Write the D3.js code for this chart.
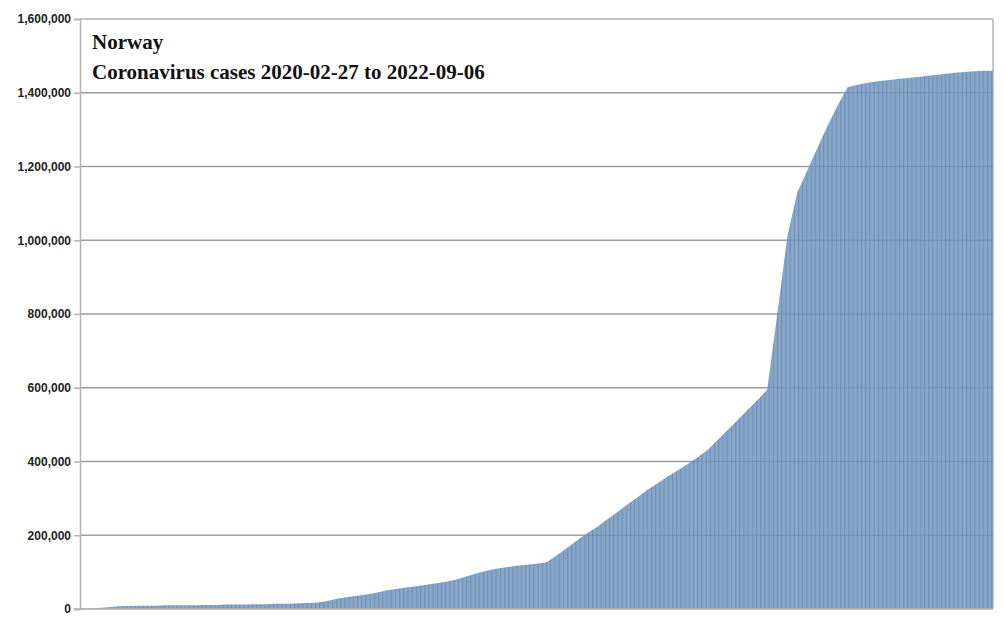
<!DOCTYPE html><html><head><meta charset="utf-8">
<script src="https://cdn.jsdelivr.net/npm/d3@7"></script>
<style>body{margin:0;background:#fff}</style></head><body>
<svg id="c" width="1005" height="625"></svg>
<script>
const values=[1,2,4,7,8,9,9,9,10,10,10,10,11,11,12,12,12,13,13,14,14,15,16,17,21,27,32,35,39,44,50,54,58,62,66,70,74,80,88,96,104,109,113,117,120,123,127,145,165,185,205,222,242,262,282,302,322,340,358,375,392,410,430,457,484,511,539,566,595,800,1010,1130,1190,1250,1310,1365,1415,1422,1427,1431,1434,1437,1440,1443,1446,1449,1452,1455,1457,1459,1460].map(v=>v*1000);
const yTicks=[0,200000,400000,600000,800000,1000000,1200000,1400000,1600000];
const titleLines=["Norway","Coronavirus cases 2020-02-27 to 2022-09-06"];
const svg=d3.select("#c");
const L=80,R=993,T=19,B=609;
const x=d3.scaleLinear().domain([-0.5,values.length-0.5]).range([L,R]);
const y=d3.scaleLinear().domain([0,1600000]).range([B,T]);
const defs=svg.append("defs");
const pat=defs.append("pattern").attr("id","stripes").attr("patternUnits","userSpaceOnUse").attr("width",4.2).attr("height",10);
pat.append("rect").attr("width",4.2).attr("height",10).attr("fill","#87a6c8");
pat.append("rect").attr("width",1).attr("height",10).attr("fill","#6e8fb6");
svg.append("g").selectAll("line").data(yTicks).join("line")
 .attr("x1",L).attr("x2",R).attr("y1",d=>y(d)).attr("y2",d=>y(d)).attr("stroke","#b3b3b3").attr("stroke-width",1.5);
svg.append("line").attr("x1",R).attr("x2",R).attr("y1",T).attr("y2",B).attr("stroke","#b3b3b3").attr("stroke-width",1.5);
const pts=[[-0.5,0],...values.map((v,i)=>[i,v]),[values.length-0.5,values[values.length-1]]];
svg.append("path").datum(pts)
 .attr("d",d3.area().x(d=>x(d[0])).y0(B).y1(d=>y(d[1])))
 .attr("fill","url(#stripes)");
svg.append("g").selectAll("line").data(yTicks.slice(1,-1)).join("line")
 .attr("x1",L).attr("x2",R).attr("y1",d=>y(d)).attr("y2",d=>y(d)).attr("stroke","#4f6f94").attr("stroke-width",1).attr("opacity",0.35);
const ax=svg.append("g").attr("transform",`translate(${L},0)`)
 .call(d3.axisLeft(y).tickValues(yTicks).tickFormat(d3.format(",")).tickSize(6));
ax.select(".domain").attr("stroke","#b3b3b3").attr("stroke-width",1.5);
ax.selectAll(".tick line").attr("stroke","#b3b3b3").attr("stroke-width",1.5);
ax.selectAll("text").attr("font-family","Liberation Sans, Arial").attr("font-weight","bold").attr("font-size",12).attr("fill","#222");
svg.append("line").attr("x1",L-6).attr("x2",R).attr("y1",B).attr("y2",B).attr("stroke","#b3b3b3").attr("stroke-width",1.5);
svg.selectAll("text.t").data(titleLines).join("text").attr("class","t")
 .attr("x",92).attr("y",(d,i)=>49+i*30).text(d=>d)
 .attr("font-family","Liberation Serif, serif").attr("font-weight","bold").attr("font-size",21).attr("fill","#111");
</script></body></html>
